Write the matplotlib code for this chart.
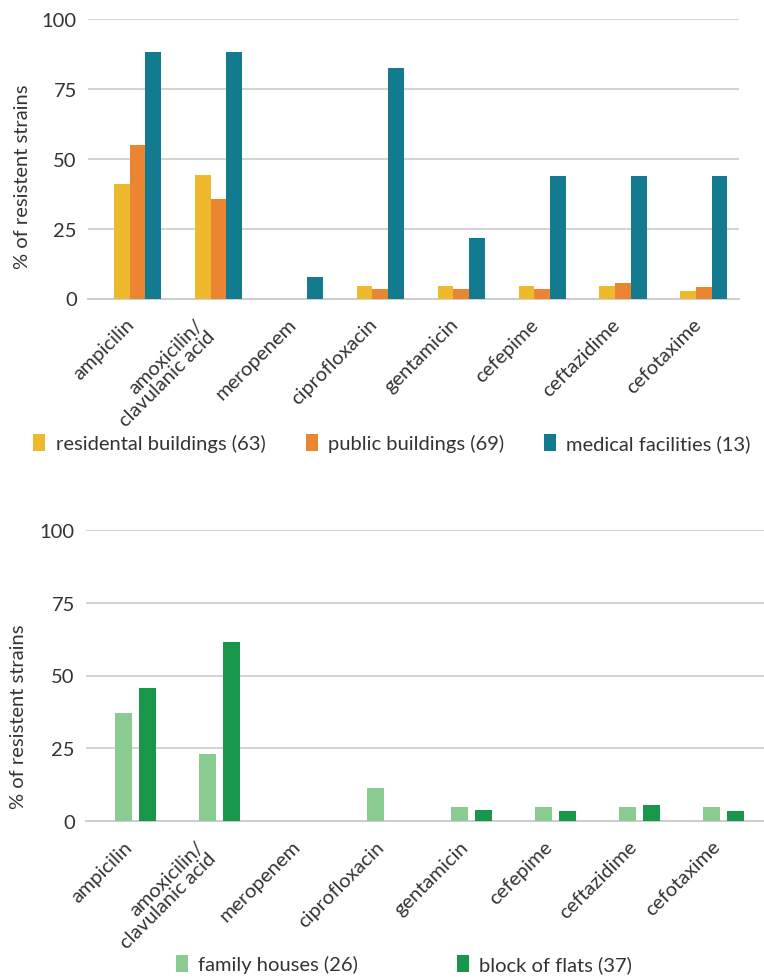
import matplotlib
matplotlib.use("Agg")
import matplotlib.pyplot as plt
from matplotlib.patches import Patch
import numpy as np

plt.rcParams['font.family'] = ['Lato', 'DejaVu Sans']

categories = ["ampicilin", "amoxicilin/\nclavulanic acid", "meropenem", "ciprofloxacin",
              "gentamicin", "cefepime", "ceftazidime", "cefotaxime"]

# top chart
residental = [41.0, 44.2, 0, 4.5, 4.5, 4.5, 4.5, 2.7]
public = [54.9, 35.6, 0, 3.4, 3.4, 3.4, 5.5, 4.1]
medical = [88.2, 88.2, 7.7, 82.5, 21.6, 43.8, 43.8, 43.8]
top_labels = ["residental buildings (63)", "public buildings (69)", "medical facilities (13)"]
top_colors = ["#EFB92E", "#EB8532", "#137B8F"]

# bottom chart
family = [37.1, 22.9, 0, 11.4, 4.7, 4.7, 4.7, 4.7]
flats = [45.7, 61.5, 0, 0, 3.7, 3.3, 5.4, 3.3]
bottom_labels = ["family houses (26)", "block of flats (37)"]
bottom_colors = ["#8ACB91", "#18964A"]

yticks = [0, 25, 50, 75, 100]

TEXT = "#333333"
GRID = "#cccccc"
FS = 14.5

fig = plt.figure(figsize=(7.64, 9.79), dpi=100)
W, H = 764, 979

def make_ax(l, r, t, b):
    return fig.add_axes([l / W, 1 - b / H, (r - l) / W, (b - t) / H])

def style(ax, xlim, ylabel_y):
    ax.set_ylim(0, 100)
    ax.set_xlim(*xlim)
    ax.set_yticks(yticks)
    ax.yaxis.grid(True, color=GRID, lw=1.2)
    ax.set_axisbelow(True)
    for s in ["top", "right", "left"]:
        ax.spines[s].set_visible(False)
    ax.spines["bottom"].set_color(GRID)
    ax.spines["bottom"].set_linewidth(1.4)
    ax.tick_params(axis="both", length=0, labelsize=FS, colors=TEXT)
    ax.tick_params(axis="y", pad=8)
    ax.tick_params(axis="x", pad=12)
    x = np.arange(len(categories))
    ax.set_xticks(x)
    ax.set_xticklabels(categories, rotation=45, ha="right", va="top", fontsize=FS,
                       color=TEXT, linespacing=0.95)
    ax.set_ylabel("% of resistent strains", fontsize=FS, color=TEXT)
    ax.yaxis.set_label_coords(-0.087, ylabel_y)

# top axes
ax1 = make_ax(88, 739, 20, 299.5)
x = np.arange(len(categories))
w = 0.194
for i, (vals, c) in enumerate(zip([residental, public, medical], top_colors)):
    ax1.bar(x + (i - 1) * w, vals, width=w, color=c, zorder=3)
style(ax1, (-0.612, 7.434), 0.44)

# bottom axes
ax2 = make_ax(86, 764, 531.3, 821.7)
w2 = 0.202
off = 0.143
ax2.bar(x - off, family, width=w2, color=bottom_colors[0], zorder=3)
ax2.bar(x + off, flats, width=w2, color=bottom_colors[1], zorder=3)
style(ax2, (-0.589, 7.48), 0.36)

h1 = [Patch(facecolor=c, edgecolor="none") for c in top_colors]
fig.legend(h1, top_labels, loc="center", bbox_to_anchor=(392 / W, 1 - 444 / H), ncol=3,
           frameon=False, fontsize=FS, handlelength=0.6, handleheight=0.9,
           handletextpad=0.5, columnspacing=2.0, labelcolor=TEXT)
h2 = [Patch(facecolor=c, edgecolor="none") for c in bottom_colors]
fig.legend(h2, bottom_labels, loc="center", bbox_to_anchor=(404 / W, 1 - 965 / H), ncol=2,
           frameon=False, fontsize=FS, handlelength=0.6, handleheight=0.9,
           handletextpad=0.5, columnspacing=4.9, labelcolor=TEXT)

fig.savefig("out.png", dpi=100)
